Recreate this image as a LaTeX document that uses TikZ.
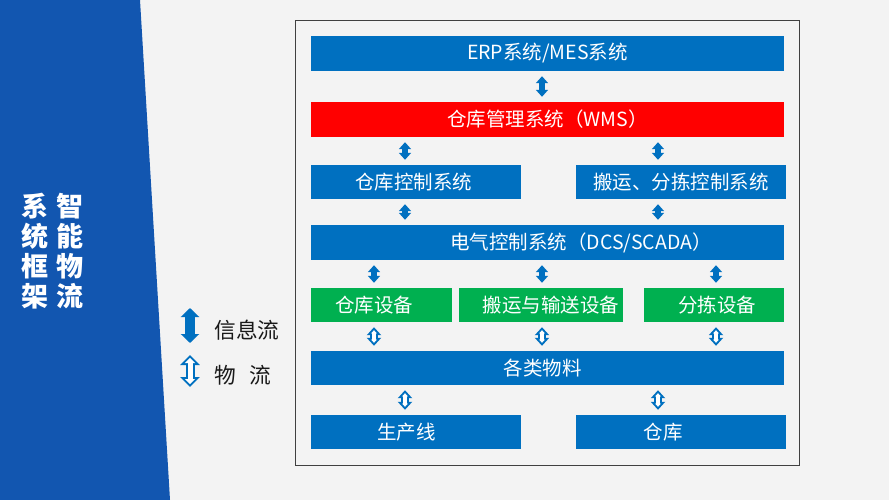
\documentclass[tikz,border=0pt]{standalone}
\usepackage{fontspec}
\setmainfont{Noto Sans CJK SC}
\usetikzlibrary{arrows.meta}
\definecolor{panelblue}{RGB}{18,86,176}
\definecolor{boxblue}{RGB}{0,112,192}
\definecolor{boxgreen}{RGB}{0,176,80}
\definecolor{bggray}{RGB}{243,243,243}
\tikzset{
  sysbox/.style={fill=boxblue, text=white, inner sep=0pt, font=\fontsize{19.5}{22}\selectfont},
  wide/.style={minimum width=473pt, minimum height=35pt},
  half/.style={minimum width=210pt, minimum height=34pt},
  info/.style={draw=boxblue, line width=6pt, shorten >=5pt, shorten <=5pt,
    {Triangle[width=12pt,length=7pt]}-{Triangle[width=12pt,length=7pt]}},
  goods/.style={draw=boxblue, line width=8pt, shorten >=5pt, shorten <=5pt,
    {Triangle[width=14pt,length=8pt]}-{Triangle[width=14pt,length=8pt]},
    postaction={draw=white, line width=3.8pt, shorten >=8pt, shorten <=8pt,
    {Triangle[width=5.6pt,length=3.2pt]}-{Triangle[width=5.6pt,length=3.2pt]}}},
  biginfo/.style={info, line width=10pt, {Triangle[width=18pt,length=9pt]}-{Triangle[width=18pt,length=9pt]}},
  biggoods/.style={draw=boxblue, line width=9pt, shorten >=5pt, shorten <=5pt,
    {Triangle[width=19pt,length=10pt]}-{Triangle[width=19pt,length=10pt]},
    postaction={draw=white, line width=5pt, shorten >=7.9pt, shorten <=7.9pt,
    {Triangle[width=9.7pt,length=5.1pt]}-{Triangle[width=9.7pt,length=5.1pt]}}}
}
\begin{document}
\begin{tikzpicture}[x=1pt,y=-1pt]
  \useasboundingbox (0,0) rectangle (889,500);
  \fill[bggray] (0,0) rectangle (889,500);
  \fill[panelblue] (0,0) -- (140,0) -- (170,500) -- (0,500) -- cycle;
  \draw[black!75, line width=0.8pt] (295,20) rectangle (799,465);

  % title and legend
  \node[text=white, align=center, font=\fontsize{27}{30}\selectfont\bfseries] (t1) at (70,251) {智\\能\\物\\流};
  \node[text=white, align=center, font=\fontsize{27}{30}\selectfont\bfseries] (t2) at (35,251) {系\\统\\框\\架};
  \coordinate (li1) at (190,303); \coordinate (li2) at (190,348);
  \coordinate (lm1) at (190,350); \coordinate (lm2) at (190,392);
  \draw[biginfo] (li1) -- (li2); \draw[biggoods] (lm1) -- (lm2);
  \node[anchor=west, text=black!90, font=\fontsize{21.7}{24}\selectfont] (lgi) at (211,330) {信息流};
  \node[anchor=west, text=black!90, font=\fontsize{21.7}{24}\selectfont] (lgm) at (211,375) {物\hspace{.6em}流};

  % boxes
  \node[sysbox,wide] (erp) at (547.5,53.5) {ERP系统/MES系统};
  \node[sysbox,wide,fill=red] (wms) at (547.5,119.5) {仓库管理系统（WMS）};
  \node[sysbox,half] (wcs) at (416,182) {仓库控制系统\kern5pt};
  \node[sysbox,half] (tcs) at (681,182) {搬运、分拣控制系统};
  \node[sysbox,wide] (dcs) at (547.5,242.5) {\kern67pt电气控制系统（DCS/SCADA）};
  \node[sysbox,fill=boxgreen,minimum width=141pt,minimum height=34pt] (eq1) at (381.5,305) {仓库设备\kern15pt};
  \node[sysbox,fill=boxgreen,minimum width=164pt,minimum height=34pt] (eq2) at (541,305) {\kern20pt搬运与输送设备};
  \node[sysbox,fill=boxgreen,minimum width=140pt,minimum height=34pt] (eq3) at (714,305) {\kern6pt分拣设备};
  \node[sysbox,wide,minimum height=34pt] (mat) at (547.5,368) {各类物料\kern10pt};
  \node[sysbox,half] (pl) at (416,432) {生产线\kern19pt};
  \node[sysbox,half] (wh) at (681,432) {仓库\kern36pt};

  % columns of the arrows
  \coordinate (cl) at (405,0); \coordinate (cm) at (542,0); \coordinate (cr) at (658,0);
  \coordinate (g1) at (374,0); \coordinate (g3) at (716,0);

  \draw[info] (erp.south -| cm) -- (wms.north -| cm);
  \draw[info] (wms.south -| cl) -- (wcs.north -| cl); \draw[info] (wms.south -| cr) -- (tcs.north -| cr);
  \draw[info] (wcs.south -| cl) -- (dcs.north -| cl); \draw[info] (tcs.south -| cr) -- (dcs.north -| cr);
  \draw[info] (dcs.south -| g1) -- (eq1.north -| g1); \draw[info] (dcs.south -| cm) -- (eq2.north -| cm);
  \draw[info] (dcs.south -| g3) -- (eq3.north -| g3);
  \draw[goods] (eq1.south -| g1) -- (mat.north -| g1); \draw[goods] (eq2.south -| cm) -- (mat.north -| cm);
  \draw[goods] (eq3.south -| g3) -- (mat.north -| g3);
  \draw[goods] (mat.south -| cl) -- (pl.north -| cl); \draw[goods] (mat.south -| cr) -- (wh.north -| cr);
\end{tikzpicture}
\end{document}
